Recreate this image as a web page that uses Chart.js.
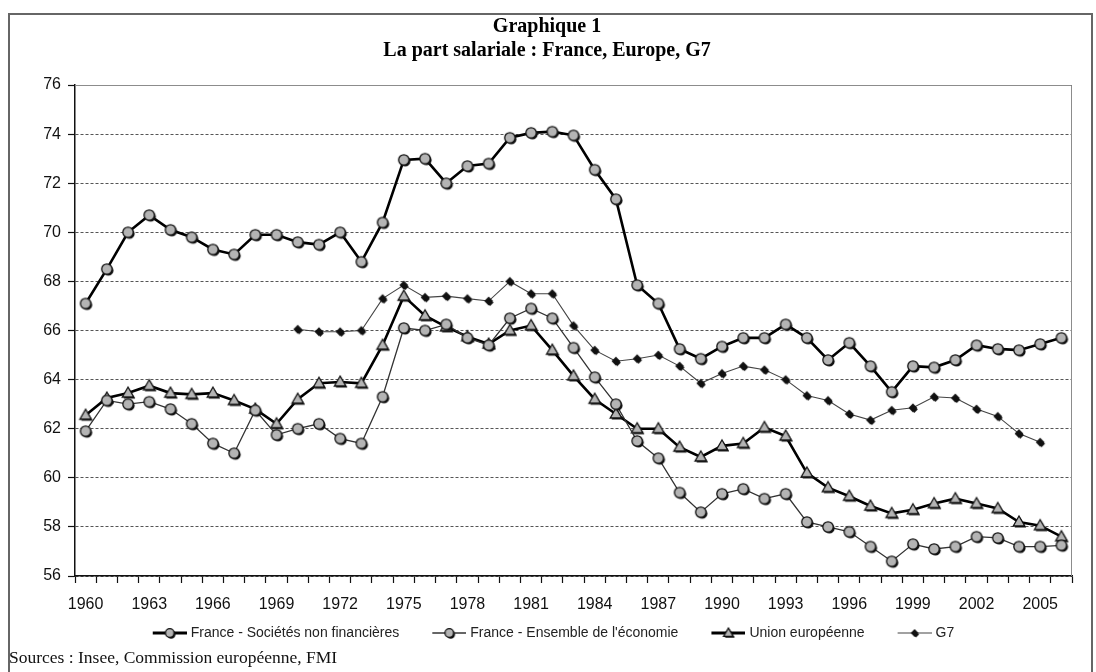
<!DOCTYPE html>
<html>
<head>
<meta charset="utf-8">
<script src="https://cdn.jsdelivr.net/npm/chart.js@4.4.1/dist/chart.umd.min.js"></script>
<style>
    html, body { margin: 0; padding: 0; background: #fff; }
    #wrap { position: relative; width: 1096px; height: 672px; overflow: hidden; }
    #frame { position: absolute; left: 8px; top: 13px; width: 1085px; height: 700px; border: 2px solid #666; box-sizing: border-box; }
    #chart { position: absolute; left: 0; top: 0; }
    #sources { position: absolute; left: 9px; top: 647px; font: 17.5px "Liberation Serif", "Times New Roman", serif; color: #111; white-space: nowrap; }
</style>
</head>
<body>
<div id="wrap">
    <div id="frame"></div>
    <canvas id="chart" width="1096" height="672"></canvas>
    <div id="sources">Sources : Insee, Commission européenne, FMI</div>
</div>
<script>
const years = [];
for (let y = 1960; y <= 2006; y++) years.push(String(y));

const seriesNames = [
    'France - Sociétés non financières',
    'France - Ensemble de l\'économie',
    'Union européenne',
    'G7'
];

// France - Sociétés non financières
const franceSnf = [
    67.1, 68.5, 70.0, 70.7, 70.1, 69.8, 69.3, 69.1, 69.9, 69.9,
    69.6, 69.5, 70.0, 68.8, 70.4, 72.95, 73.0, 72.0, 72.7, 72.8,
    73.85, 74.05, 74.1, 73.95, 72.55, 71.35, 67.85, 67.1, 65.25, 64.85,
    65.35, 65.7, 65.7, 66.25, 65.7, 64.8, 65.5, 64.55, 63.5, 64.55,
    64.5, 64.8, 65.4, 65.25, 65.2, 65.45, 65.7
];

// France - Ensemble de l'économie
const franceEco = [
    61.9, 63.15, 63.0, 63.1, 62.8, 62.2, 61.4, 61.0, 62.75, 61.75,
    62.0, 62.2, 61.6, 61.4, 63.3, 66.1, 66.0, 66.25, 65.7, 65.4,
    66.5, 66.9, 66.5, 65.3, 64.1, 63.0, 61.5, 60.8, 59.4, 58.6,
    59.35, 59.55, 59.15, 59.35, 58.2, 58.0, 57.8, 57.2, 56.6, 57.3,
    57.1, 57.2, 57.6, 57.55, 57.2, 57.2, 57.25
];

// Union européenne
const unionEu = [
    62.55, 63.25, 63.45, 63.75, 63.45, 63.4, 63.45, 63.15, 62.8, 62.2,
    63.2, 63.85, 63.9, 63.85, 65.4, 67.4, 66.6, 66.15, 65.75, 65.45,
    66.0, 66.2, 65.2, 64.15, 63.2, 62.6, 62.0, 62.0, 61.25, 60.85,
    61.3, 61.4, 62.05, 61.7, 60.2, 59.6, 59.25, 58.85, 58.55, 58.7,
    58.95, 59.15, 58.95, 58.75, 58.2, 58.05, 57.6
];

// G7 (pas de donnees avant 1970 ni en 2006)
const g7 = [
    null, null, null, null, null, null, null, null, null, null,
    66.05, 65.95, 65.95, 66.0, 67.3, 67.85, 67.35, 67.4, 67.3, 67.2,
    68.0, 67.5, 67.5, 66.2, 65.2, 64.75, 64.85, 65.0, 64.55, 63.85,
    64.25, 64.55, 64.4, 64.0, 63.35, 63.15, 62.6, 62.35, 62.75, 62.85,
    63.3, 63.25, 62.8, 62.5, 61.8, 61.45, null
];

const sansFont = '"Liberation Sans", Arial, sans-serif';
const serifFont = '"Liberation Serif", "Times New Roman", serif';

// marqueurs gris avec ombre portee, comme dans Excel
function markerImage(kind, size) {
    const c = document.createElement('canvas');
    c.width = 18;
    c.height = 18;
    const g = c.getContext('2d');
    const m = 9;
    const shape = function (dx, dy) {
        g.beginPath();
        if (kind === 'circle') {
            g.arc(m + dx, m + dy, size, 0, Math.PI * 2);
        } else if (kind === 'triangle') {
            g.moveTo(m + dx, m - size * 1.2 + dy);
            g.lineTo(m + size * 1.15 + dx, m + size * 0.8 + dy);
            g.lineTo(m - size * 1.15 + dx, m + size * 0.8 + dy);
            g.closePath();
        } else {
            g.moveTo(m + dx, m - size + dy);
            g.lineTo(m + size + dx, m + dy);
            g.lineTo(m + dx, m + size + dy);
            g.lineTo(m - size + dx, m + dy);
            g.closePath();
        }
    };
    shape(1.4, 1.4);
    g.fillStyle = '#111';
    g.fill();
    shape(0, 0);
    g.fillStyle = kind === 'diamond' ? '#111' : '#b4b4b4';
    g.fill();
    g.lineWidth = 1.3;
    g.strokeStyle = '#111';
    g.stroke();
    return c;
}

// icone de legende : trait + marqueur, cale a droite de la boite
const legendBox = 44;
function legendImage(marker, lineWidth, color) {
    const c = document.createElement('canvas');
    c.width = legendBox + 6;
    c.height = 18;
    const g = c.getContext('2d');
    const start = c.width - 34;
    g.strokeStyle = color;
    g.lineWidth = lineWidth;
    g.beginPath();
    g.moveTo(start, 9);
    g.lineTo(c.width, 9);
    g.stroke();
    g.drawImage(marker, start + 17 - 9, 0);
    return c;
}

const circleImg = markerImage('circle', 5.2);
const triangleImg = markerImage('triangle', 5);
const diamondImg = markerImage('diamond', 3.5);

const legendIcons = [
    legendImage(markerImage('circle', 4.3), 3, '#000'),
    legendImage(markerImage('circle', 4.3), 1.3, '#333'),
    legendImage(markerImage('triangle', 4.2), 3, '#000'),
    legendImage(markerImage('diamond', 3), 1.1, '#444')
];

const plotFrame = {
    id: 'plotFrame',
    afterLayout(chart) {
        // la legende est plus proche de l'axe que ne le voudrait le padding
        chart.legend.top -= 10;
        chart.legend.bottom -= 10;
    },
    beforeDatasetsDraw(chart) {
        const ctx = chart.ctx;
        const a = chart.chartArea;
        ctx.save();
        ctx.strokeStyle = '#8c8c8c';
        ctx.lineWidth = 1;
        ctx.beginPath();
        ctx.moveTo(a.left, a.top + 0.5);
        ctx.lineTo(a.right - 0.5, a.top + 0.5);
        ctx.lineTo(a.right - 0.5, a.bottom);
        ctx.stroke();
        ctx.restore();
    }
};

const ctx = document.getElementById('chart');

new Chart(ctx, {
    type: 'line',
    data: {
        labels: years,
        datasets: [
            {
                label: seriesNames[0],
                data: franceSnf,
                borderColor: '#000',
                borderWidth: 2.6,
                pointStyle: circleImg,
                pointRadius: 5
            },
            {
                label: seriesNames[1],
                data: franceEco,
                borderColor: '#333',
                borderWidth: 1.3,
                pointStyle: circleImg,
                pointRadius: 5
            },
            {
                label: seriesNames[2],
                data: unionEu,
                borderColor: '#000',
                borderWidth: 2.6,
                pointStyle: triangleImg,
                pointRadius: 5
            },
            {
                label: seriesNames[3],
                data: g7,
                borderColor: '#444',
                borderWidth: 1.1,
                pointStyle: diamondImg,
                pointRadius: 4
            }
        ]
    },
    options: {
        responsive: false,
        animation: false,
        layout: {
            padding: {left: 22, right: 24, top: 15, bottom: 12}
        },
        scales: {
            x: {
                offset: true,
                ticks: {
                    autoSkip: false,
                    maxRotation: 0,
                    padding: 12,
                    color: '#111',
                    font: {family: sansFont, size: 16},
                    callback: function (value, index) {
                        return (Number(years[index]) - 1960) % 3 === 0 ? years[index] : '';
                    }
                },
                grid: {
                    offset: true,
                    drawOnChartArea: false,
                    drawTicks: true,
                    tickLength: 7,
                    tickColor: '#111',
                    tickWidth: 1.2
                },
                border: {color: '#111', width: 1.5},
                afterFit: function (scale) {
                    scale.height = 40;
                }
            },
            y: {
                min: 56,
                max: 76,
                ticks: {
                    stepSize: 2,
                    padding: 7,
                    color: '#111',
                    font: {family: sansFont, size: 16}
                },
                grid: {
                    color: '#555',
                    lineWidth: 1,
                    drawTicks: true,
                    tickLength: 7,
                    tickColor: '#111',
                    tickWidth: 1.2,
                    tickBorderDash: []
                },
                border: {color: '#111', width: 1.5, dash: [3, 2]},
                afterFit: function (scale) {
                    scale.width = 53;
                }
            }
        },
        plugins: {
            title: {
                display: true,
                text: ['Graphique 1', 'La part salariale : France, Europe, G7'],
                color: '#000',
                font: {family: serifFont, size: 20, weight: 'bold', lineHeight: 1.2},
                padding: {top: 0, bottom: 22}
            },
            legend: {
                position: 'bottom',
                labels: {
                    usePointStyle: true,
                    pointStyleWidth: legendBox,
                    padding: 20,
                    color: '#222',
                    font: {family: sansFont, size: 14},
                    generateLabels: function (chart) {
                        return chart.data.datasets.map(function (ds, i) {
                            return {
                                text: ds.label,
                                pointStyle: legendIcons[i],
                                datasetIndex: i,
                                hidden: false,
                                lineWidth: 0,
                                fillStyle: 'transparent',
                                strokeStyle: 'transparent',
                                fontColor: '#222'
                            };
                        });
                    }
                }
            },
            tooltip: {enabled: false}
        }
    },
    plugins: [plotFrame]
});
</script>
</body>
</html>
